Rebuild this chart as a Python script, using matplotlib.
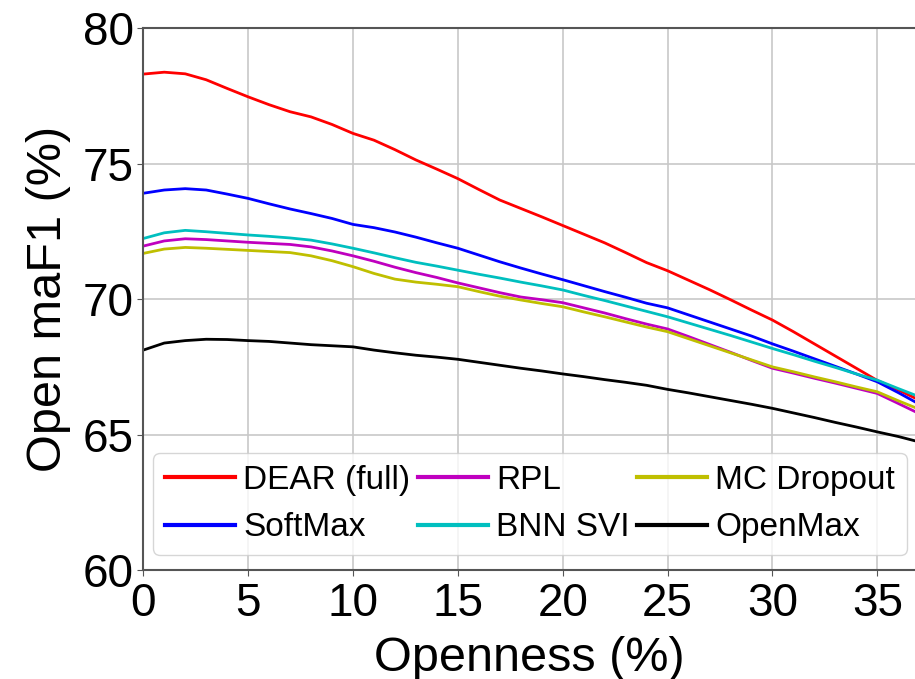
import matplotlib
matplotlib.use("Agg")
import matplotlib.pyplot as plt
import numpy as np

plt.rcParams['font.family'] = ['Liberation Sans', 'DejaVu Sans']

openness = [0, 1, 2, 3, 4, 5, 6, 7, 8, 9, 10, 11, 12, 13, 14, 15, 16, 17, 18, 19,
            20, 21, 22, 23, 24, 25, 26, 27, 28, 29, 30, 31, 32, 33, 34, 35, 36, 36.8]

dear = [78.31, 78.38, 78.32, 78.10, 77.78, 77.47, 77.18, 76.92, 76.73, 76.45,
        76.12, 75.87, 75.52, 75.14, 74.80, 74.45, 74.05, 73.66, 73.35, 73.04,
        72.72, 72.40, 72.08, 71.72, 71.35, 71.05, 70.70, 70.35, 69.98, 69.60,
        69.23, 68.80, 68.35, 67.90, 67.45, 67.00, 66.65, 66.35]
softmax = [73.91, 74.03, 74.08, 74.03, 73.88, 73.72, 73.52, 73.33, 73.16, 72.98,
           72.76, 72.64, 72.48, 72.29, 72.08, 71.88, 71.63, 71.38, 71.15, 70.93,
           70.72, 70.50, 70.28, 70.07, 69.85, 69.68, 69.42, 69.16, 68.90, 68.64,
           68.35, 68.08, 67.80, 67.52, 67.24, 66.95, 66.55, 66.21]
bnn_svi = [72.24, 72.45, 72.54, 72.49, 72.43, 72.37, 72.32, 72.26, 72.18, 72.04,
           71.88, 71.71, 71.53, 71.36, 71.22, 71.07, 70.92, 70.78, 70.63, 70.49,
           70.34, 70.14, 69.95, 69.75, 69.55, 69.35, 69.12, 68.89, 68.66, 68.42,
           68.18, 67.95, 67.71, 67.48, 67.24, 67.01, 66.70, 66.46]
rpl = [71.96, 72.15, 72.23, 72.20, 72.15, 72.10, 72.06, 72.02, 71.93, 71.78,
       71.60, 71.40, 71.18, 70.98, 70.80, 70.60, 70.42, 70.24, 70.08, 69.98,
       69.87, 69.68, 69.49, 69.28, 69.08, 68.90, 68.62, 68.33, 68.04, 67.74,
       67.45, 67.27, 67.08, 66.90, 66.71, 66.52, 66.15, 65.85]
mc_dropout = [71.69, 71.85, 71.91, 71.88, 71.84, 71.80, 71.76, 71.72, 71.60, 71.42,
              71.20, 70.95, 70.74, 70.63, 70.55, 70.46, 70.28, 70.11, 69.97, 69.84,
              69.72, 69.53, 69.35, 69.16, 68.97, 68.80, 68.54, 68.28, 68.02, 67.76,
              67.50, 67.32, 67.13, 66.95, 66.76, 66.58, 66.25, 66.00]
openmax = [68.12, 68.38, 68.47, 68.52, 68.51, 68.47, 68.44, 68.38, 68.32, 68.28,
           68.24, 68.12, 68.02, 67.93, 67.86, 67.78, 67.67, 67.56, 67.45, 67.35,
           67.24, 67.14, 67.03, 66.93, 66.82, 66.67, 66.54, 66.40, 66.26, 66.12,
           65.97, 65.80, 65.63, 65.45, 65.28, 65.10, 64.93, 64.77]

x_ticks = [0, 5, 10, 15, 20, 25, 30, 35]
y_ticks = [60, 65, 70, 75, 80]

fig = plt.figure(figsize=(9.15, 6.79), dpi=100)
ax = fig.add_axes([0.1566, 0.1605, 0.8434, 0.7978])

series = [
    ("DEAR (full)", dear, "#ff0000"),
    ("SoftMax", softmax, "#0000ff"),
    ("RPL", rpl, "#bf00bf"),
    ("BNN SVI", bnn_svi, "#00bfbf"),
    ("MC Dropout", mc_dropout, "#bfbf00"),
    ("OpenMax", openmax, "#000000"),
]
for label, vals, col in series:
    ax.plot(openness, vals, color=col, lw=2, label=label)

ax.set_xlim(0, 36.8)
ax.set_ylim(60, 80)
ax.set_xticks(x_ticks)
ax.set_yticks(y_ticks)
ax.grid(True, color="#c8c8c8", lw=1.2)
ax.set_axisbelow(True)
for s in ["left", "bottom", "top"]:
    ax.spines[s].set_color("#555555")
    ax.spines[s].set_linewidth(1.5)
ax.spines["right"].set_visible(False)
ax.tick_params(axis="both", labelsize=33, length=4, color="#555555")
ax.tick_params(axis="x", pad=4.5)
ax.tick_params(axis="y", pad=3)

ax.set_xlabel("Openness (%)", fontsize=35, labelpad=7)
ax.set_ylabel("Open maF1 (%)", fontsize=35, labelpad=8)

leg = ax.legend(ncol=3, loc="lower left", bbox_to_anchor=(0.013, 0.0277, 0.976, 0.188),
                mode="expand", fontsize=24, handlelength=2.1, handletextpad=0.25,
                columnspacing=0.5, labelspacing=0.5, borderpad=0.35, borderaxespad=0)
for h in leg.get_lines():
    h.set_linewidth(3)

fig.savefig("out.png", dpi=100)
